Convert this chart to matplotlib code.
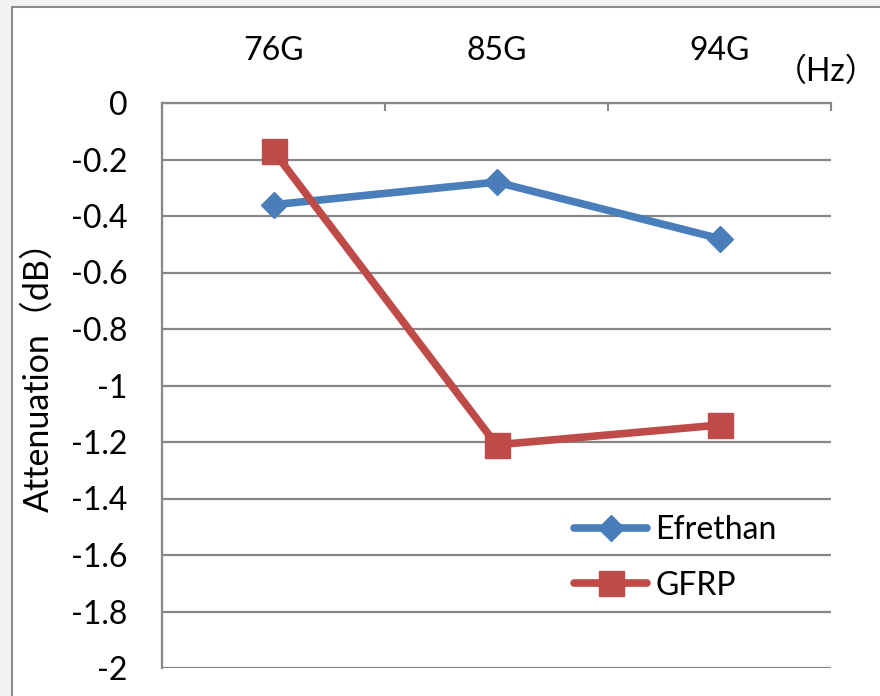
import matplotlib
matplotlib.use("Agg")
import matplotlib.pyplot as plt
from matplotlib.patches import Rectangle

bands = ["76G", "85G", "94G"]
efrethan = [-0.36, -0.28, -0.48]
gfrp = [-0.17, -1.21, -1.14]
yticks = [0, -0.2, -0.4, -0.6, -0.8, -1, -1.2, -1.4, -1.6, -1.8, -2]
ytick_labels = ["0", "-0.2", "-0.4", "-0.6", "-0.8", "-1", "-1.2", "-1.4", "-1.6", "-1.8", "-2"]

FONT = ["Lato", "Noto Sans CJK JP", "DejaVu Sans"]
GRID = "#878787"
FS = 23
plt.rcParams["font.family"] = FONT

fig = plt.figure(figsize=(8.8, 6.96), dpi=100, facecolor="#f2f2f2")
# chart area frame, drawn beneath the axes
frame = Rectangle((12 / 880, -0.01), 1.0, 1 - 7 / 696 + 0.01,
                  transform=fig.transFigure, facecolor="white",
                  edgecolor="#8c8c8c", linewidth=1.5, zorder=-10)
fig.add_artist(frame)

ax = fig.add_axes([162 / 880, 1 - 668 / 696, 669 / 880, 565 / 696])
ax.set_facecolor("none")
x = list(range(len(bands)))

ax.plot(x, efrethan, color="#4a7ebb", linewidth=5.5, marker="D", markersize=13.5,
        label="Efrethan", zorder=3, solid_capstyle="round")
ax.plot(x, gfrp, color="#be4b48", linewidth=5.5, marker="s", markersize=18,
        label="GFRP", zorder=4, solid_capstyle="round")

ax.set_xlim(-0.5, 2.5)
ax.set_ylim(-2, 0)
ax.set_yticks(yticks)
ax.set_yticklabels(ytick_labels)
ax.set_xticks(x)
ax.set_xticklabels(bands)
ax.xaxis.tick_top()
ax.set_xticks([-0.5, 0.5, 1.5, 2.5], minor=True)
ax.tick_params(axis="x", which="major", length=0, pad=27, labelsize=FS)
ax.tick_params(axis="x", which="minor", top=True, bottom=False, direction="in",
               length=6, width=1.5, color=GRID)
ax.tick_params(axis="y", length=0, pad=25, labelsize=FS)

ax.grid(axis="y", color=GRID, linewidth=1.6)
for side in ["left", "top"]:
    ax.spines[side].set_color(GRID)
    ax.spines[side].set_linewidth(1.6)
ax.spines["right"].set_visible(False)
ax.spines["bottom"].set_visible(False)

ax.set_ylabel("Attenuation（dB）", fontsize=24.5)
ax.yaxis.set_label_coords(-0.16, 0.53)
fig.text(826 / 880, 1 - 72 / 696, "（Hz）", fontsize=FS, ha="center", va="center")

ax.legend(loc="upper left", bbox_to_anchor=(574 / 880, 1 - 515 / 696),
          bbox_transform=fig.transFigure, frameon=False, borderpad=0,
          borderaxespad=0, fontsize=FS, handlelength=2.3, handletextpad=0.25,
          labelspacing=0.8)

fig.savefig("out.png", dpi=100, facecolor=fig.get_facecolor())
